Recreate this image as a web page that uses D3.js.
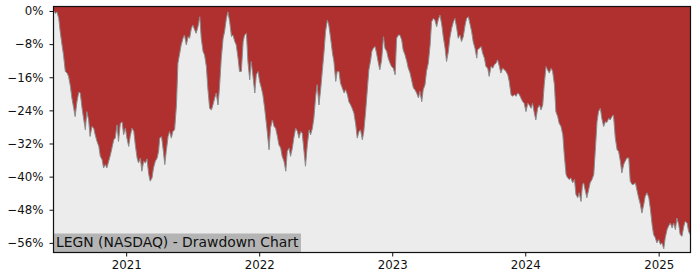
<!DOCTYPE html>
<html>
<head>
<meta charset="utf-8">
<script src="https://cdn.jsdelivr.net/npm/d3@7"></script>
<style>
  body { margin: 0; background: #fff; }
  svg { display: block; }
</style>
</head>
<body>
<script>
"use strict";

// drawdown readings, percent below running high
const dates = [
  "2020-06-17","2020-06-21","2020-06-25","2020-06-30","2020-07-04","2020-07-09","2020-07-13","2020-07-18",
  "2020-07-23","2020-07-27","2020-08-01","2020-08-05","2020-08-10","2020-08-14","2020-08-19","2020-08-24",
  "2020-08-28","2020-09-02","2020-09-06","2020-09-11","2020-09-15","2020-09-20","2020-09-24","2020-09-29",
  "2020-10-04","2020-10-08","2020-10-13","2020-10-18","2020-10-22","2020-10-27","2020-10-31","2020-11-05",
  "2020-11-09","2020-11-14","2020-11-19","2020-11-23","2020-11-28","2020-12-02","2020-12-07","2020-12-11",
  "2020-12-16","2020-12-21","2020-12-25","2020-12-30","2021-01-03","2021-01-08","2021-01-12","2021-01-17",
  "2021-01-22","2021-01-26","2021-01-31","2021-02-04","2021-02-09","2021-02-13","2021-02-18","2021-02-23",
  "2021-02-27","2021-03-04","2021-03-08","2021-03-13","2021-03-17","2021-03-22","2021-03-27","2021-03-31",
  "2021-04-03","2021-04-08","2021-04-12","2021-04-17","2021-04-21","2021-04-26","2021-04-30","2021-05-05",
  "2021-05-09","2021-05-14","2021-05-19","2021-05-23","2021-05-28","2021-06-01","2021-06-06","2021-06-10",
  "2021-06-15","2021-06-20","2021-06-24","2021-06-29","2021-07-03","2021-07-08","2021-07-12","2021-07-17",
  "2021-07-22","2021-07-26","2021-07-31","2021-08-04","2021-08-09","2021-08-13","2021-08-18","2021-08-23",
  "2021-08-27","2021-09-01","2021-09-05","2021-09-10","2021-09-14","2021-09-19","2021-09-24","2021-09-28",
  "2021-10-03","2021-10-07","2021-10-12","2021-10-17","2021-10-21","2021-10-26","2021-10-30","2021-11-04",
  "2021-11-08","2021-11-13","2021-11-18","2021-11-22","2021-11-27","2021-12-01","2021-12-06","2021-12-10",
  "2021-12-15","2021-12-20","2021-12-24","2021-12-29","2022-01-02","2022-01-07","2022-01-11","2022-01-16",
  "2022-01-19","2022-01-23","2022-01-28","2022-02-01","2022-02-06","2022-02-11","2022-02-15","2022-02-20",
  "2022-02-24","2022-03-01","2022-03-05","2022-03-10","2022-03-15","2022-03-19","2022-03-24","2022-03-28",
  "2022-04-02","2022-04-06","2022-04-11","2022-04-16","2022-04-20","2022-04-25","2022-04-29","2022-05-04",
  "2022-05-08","2022-05-13","2022-05-18","2022-05-22","2022-05-27","2022-05-31","2022-06-05","2022-06-09",
  "2022-06-14","2022-06-19","2022-06-23","2022-06-28","2022-07-02","2022-07-07","2022-07-11","2022-07-16",
  "2022-07-21","2022-07-25","2022-07-30","2022-08-03","2022-08-08","2022-08-12","2022-08-17","2022-08-22",
  "2022-08-26","2022-08-31","2022-09-04","2022-09-09","2022-09-13","2022-09-18","2022-09-23","2022-09-27",
  "2022-10-02","2022-10-06","2022-10-11","2022-10-15","2022-10-20","2022-10-25","2022-10-29","2022-11-03",
  "2022-11-06","2022-11-10","2022-11-15","2022-11-19","2022-11-24","2022-11-28","2022-12-03","2022-12-08",
  "2022-12-12","2022-12-17","2022-12-21","2022-12-26","2022-12-30","2023-01-04","2023-01-09","2023-01-13",
  "2023-01-18","2023-01-22","2023-01-27","2023-01-31","2023-02-05","2023-02-10","2023-02-14","2023-02-19",
  "2023-02-23","2023-02-28","2023-03-04","2023-03-09","2023-03-14","2023-03-18","2023-03-23","2023-03-27",
  "2023-04-01","2023-04-05","2023-04-10","2023-04-15","2023-04-19","2023-04-24","2023-04-28","2023-05-03",
  "2023-05-07","2023-05-12","2023-05-17","2023-05-21","2023-05-26","2023-05-30","2023-06-04","2023-06-08",
  "2023-06-13","2023-06-18","2023-06-22","2023-06-27","2023-07-01","2023-07-06","2023-07-10","2023-07-15",
  "2023-07-20","2023-07-24","2023-07-29","2023-08-02","2023-08-07","2023-08-11","2023-08-16","2023-08-21",
  "2023-08-23","2023-08-28","2023-09-02","2023-09-06","2023-09-11","2023-09-15","2023-09-20","2023-09-24",
  "2023-09-29","2023-10-04","2023-10-08","2023-10-13","2023-10-17","2023-10-22","2023-10-26","2023-10-31",
  "2023-11-05","2023-11-09","2023-11-14","2023-11-18","2023-11-23","2023-11-27","2023-12-02","2023-12-07",
  "2023-12-11","2023-12-16","2023-12-20","2023-12-25","2023-12-29","2024-01-03","2024-01-08","2024-01-12",
  "2024-01-17","2024-01-21","2024-01-26","2024-01-30","2024-02-04","2024-02-09","2024-02-13","2024-02-18",
  "2024-02-22","2024-02-27","2024-03-02","2024-03-07","2024-03-12","2024-03-16","2024-03-21","2024-03-25",
  "2024-03-30","2024-04-03","2024-04-08","2024-04-13","2024-04-17","2024-04-22","2024-04-26","2024-05-01",
  "2024-05-05","2024-05-10","2024-05-15","2024-05-19","2024-05-24","2024-05-28","2024-06-02","2024-06-06",
  "2024-06-09","2024-06-14","2024-06-18","2024-06-23","2024-06-27","2024-07-02","2024-07-07","2024-07-11",
  "2024-07-16","2024-07-20","2024-07-25","2024-07-29","2024-08-03","2024-08-08","2024-08-12","2024-08-17",
  "2024-08-21","2024-08-26","2024-08-30","2024-09-04","2024-09-09","2024-09-13","2024-09-18","2024-09-22",
  "2024-09-27","2024-10-01","2024-10-06","2024-10-11","2024-10-15","2024-10-20","2024-10-24","2024-10-29",
  "2024-11-03","2024-11-07","2024-11-12","2024-11-16","2024-11-21","2024-11-25","2024-11-30","2024-12-05",
  "2024-12-09","2024-12-14","2024-12-18","2024-12-23","2024-12-27","2025-01-01","2025-01-06","2025-01-10",
  "2025-01-15","2025-01-19","2025-01-24","2025-01-28","2025-02-02","2025-02-07","2025-02-11","2025-02-16",
  "2025-02-20","2025-02-25","2025-03-01","2025-03-06","2025-03-11","2025-03-15","2025-03-20","2025-03-24",
  "2025-03-28"
];

const drawdown = [
  0,-0.6,-0.2,-1.8,-5.0,-8.2,-10.6,-14.6,
  -15.0,-15.8,-18.2,-21.0,-23.4,-25.5,-21.9,-19.6,
  -19.8,-23.5,-25.9,-28.7,-24.3,-26.3,-30.3,-27.9,
  -28.3,-29.9,-31.5,-32.7,-35.1,-35.9,-37.9,-37.1,
  -37.9,-36.3,-34.7,-33.1,-31.1,-30.7,-27.5,-31.5,
  -27.1,-26.8,-29.9,-28.3,-30.7,-32.7,-30.3,-28.3,
  -29.1,-32.3,-35.5,-36.7,-35.5,-38.7,-36.3,-36.7,
  -35.7,-39.5,-41.1,-40.3,-37.9,-36.3,-35.5,-33.9,
  -30.7,-30.3,-33.1,-37.1,-33.9,-30.3,-29.1,-30.7,
  -29.1,-28.7,-22.7,-12.6,-10.2,-8.2,-6.6,-5.8,
  -8.2,-6.2,-6.6,-4.2,-3.4,-4.6,-5.4,-3.8,
  -1.4,-6.6,-9.8,-10.6,-13.4,-18.6,-23.5,-23.9,
  -22.7,-21.0,-19.8,-22.7,-18.6,-11.4,-6.6,-5.0,
  -1.8,-0.2,-2.6,-6.2,-5.8,-7.4,-8.2,-11.4,
  -14.6,-14.6,-7.4,-5.8,-5.4,-12.2,-16.6,-12.2,
  -15.8,-19.8,-15.4,-14.6,-17.0,-18.6,-20.2,-23.5,
  -25.9,-29.1,-33.5,-28.3,-26.3,-27.9,-28.3,-30.3,
  -32.3,-33.1,-35.1,-36.3,-38.7,-33.9,-33.1,-35.1,
  -33.1,-30.7,-28.3,-29.1,-30.7,-29.1,-29.5,-33.9,
  -37.5,-32.3,-28.7,-29.9,-28.3,-25.9,-20.6,-17.8,
  -22.7,-18.6,-14.6,-9.8,-5.0,-2.2,-3.4,-6.6,
  -10.2,-12.2,-17.0,-14.6,-14.6,-17.4,-18.6,-19.8,
  -19.0,-20.2,-21.9,-22.7,-23.5,-24.7,-27.5,-30.7,
  -29.1,-28.7,-31.1,-29.1,-24.3,-18.6,-14.2,-11.8,
  -9.8,-9.0,-8.6,-10.2,-12.6,-14.2,-11.8,-6.2,
  -9.0,-9.8,-11.4,-12.6,-13.4,-13.8,-15.4,-6.6,
  -5.8,-5.8,-7.0,-9.4,-10.6,-12.2,-13.8,-15.0,
  -16.6,-18.6,-19.0,-19.8,-21.0,-19.4,-21.9,-19.0,
  -17.8,-14.6,-12.6,-8.2,-2.6,-1.8,-2.2,-3.8,
  -2.2,-1.0,-3.4,-6.2,-9.0,-12.2,-9.8,-6.6,
  -4.2,-2.6,-1.8,-4.2,-6.6,-5.8,-7.4,-6.2,
  -3.4,-1.8,-1.4,-3.0,-5.0,-7.4,-9.0,-11.4,
  -9.4,-9.0,-8.6,-10.2,-11.4,-13.4,-13.8,-15.8,
  -13.4,-13.8,-13.0,-12.6,-11.8,-13.4,-15.0,-13.8,
  -14.2,-14.6,-15.4,-17.0,-20.2,-20.6,-20.2,-20.6,
  -19.8,-20.2,-21.0,-21.9,-22.3,-24.3,-22.3,-22.7,
  -23.5,-22.3,-24.7,-26.3,-23.5,-22.7,-23.9,-22.7,
  -17.8,-13.4,-14.2,-15.0,-13.8,-14.6,-17.8,-24.3,
  -25.5,-27.1,-27.9,-29.9,-34.7,-39.5,-40.3,-40.7,
  -40.3,-41.5,-40.7,-44.3,-45.1,-43.9,-46.0,-41.9,
  -41.5,-43.5,-45.1,-43.1,-41.5,-40.7,-39.5,-33.9,
  -26.7,-24.3,-23.5,-25.9,-27.9,-26.7,-26.9,-25.9,
  -26.3,-25.5,-25.1,-30.7,-33.5,-33.9,-36.3,-39.1,
  -37.1,-36.3,-35.5,-35.5,-41.1,-41.9,-41.9,-41.5,
  -43.5,-45.1,-46.8,-48.8,-46.8,-44.8,-43.9,-45.1,
  -47.6,-51.6,-54.0,-54.8,-56.0,-55.2,-56.4,-56.0,
  -57.4,-54.8,-52.8,-52.0,-51.2,-52.4,-51.2,-52.8,
  -50.0,-51.6,-54.0,-54.4,-52.0,-50.8,-51.2,-53.2,
  -54.0
];

const yTicks = [0, -8, -16, -24, -32, -40, -48, -56];
const yearTicks = ["2021-01-01", "2022-01-01", "2023-01-01", "2024-01-01", "2025-01-01"];
const yLimits = [-58.2, 0.96];
const chartTitle = "LEGN (NASDAQ) - Drawdown Chart";

const W = 700, H = 280;
const margin = {top: 7, right: 10, bottom: 28, left: 54};
const width = W - margin.left - margin.right,
      height = H - margin.top - margin.bottom;

const parse = d3.timeParse("%Y-%m-%d");
const data = dates.map(function (d, i) {
  return {date: parse(d), value: drawdown[i]};
});

const x = d3.scaleTime()
  .domain(d3.extent(data, function (d) { return d.date; }))
  .range([0, width]);
const y = d3.scaleLinear().domain(yLimits).range([height, 0]);

const svg = d3.select("body").append("svg")
  .attr("width", W)
  .attr("height", H)
  .style("font-family", "'DejaVu Sans', sans-serif");

const g = svg.append("g")
  .attr("transform", "translate(" + margin.left + "," + margin.top + ")");

// plot background
g.append("rect")
  .attr("width", width)
  .attr("height", height)
  .attr("fill", "#ececec");

// red area from the top of the axes down to the drawdown
const area = d3.area()
  .x(function (d) { return x(d.date); })
  .y0(0)
  .y1(function (d) { return y(d.value); });

g.append("path")
  .datum(data)
  .attr("d", area)
  .attr("fill", "#b03030");

const line = d3.line()
  .x(function (d) { return x(d.date); })
  .y(function (d) { return y(d.value); });

g.append("path")
  .datum(data)
  .attr("d", line)
  .attr("fill", "none")
  .attr("stroke", "#8c8c8c")
  .attr("stroke-width", 1);

// title box at bottom left
const titleG = g.append("g");
const titleText = titleG.append("text")
  .attr("x", 2)
  .attr("y", height - 5)
  .attr("font-size", "13.9px")
  .attr("fill", "#111")
  .text(chartTitle);
const tw = titleText.node().getComputedTextLength();
titleG.insert("rect", "text")
  .attr("x", 0)
  .attr("y", height - 18.5)
  .attr("width", tw + 4.5)
  .attr("height", 18.5)
  .attr("fill", "#b4b4b4");

// axes
const yAxis = g.append("g")
  .call(d3.axisLeft(y)
    .tickValues(yTicks)
    .tickSize(4.5)
    .tickPadding(6)
    .tickFormat(function (d) { return d3.format("d")(d) + "%"; }));

const xAxis = g.append("g")
  .attr("transform", "translate(0," + height + ")")
  .call(d3.axisBottom(x)
    .tickValues(yearTicks.map(parse))
    .tickSize(4.5)
    .tickPadding(4)
    .tickFormat(d3.timeFormat("%Y")));

[yAxis, xAxis].forEach(function (a) {
  a.select(".domain").remove();
  a.attr("font-family", null).attr("font-size", null);
  a.selectAll("text").attr("font-size", "11.8px").attr("fill", "#111");
  a.selectAll("line").attr("stroke", "#111");
});

// frame
g.append("rect")
  .attr("x", -0.5)
  .attr("y", -0.5)
  .attr("width", width + 1)
  .attr("height", height + 1)
  .attr("fill", "none")
  .attr("stroke", "#111")
  .attr("stroke-width", 1.2);
</script>
</body>
</html>
